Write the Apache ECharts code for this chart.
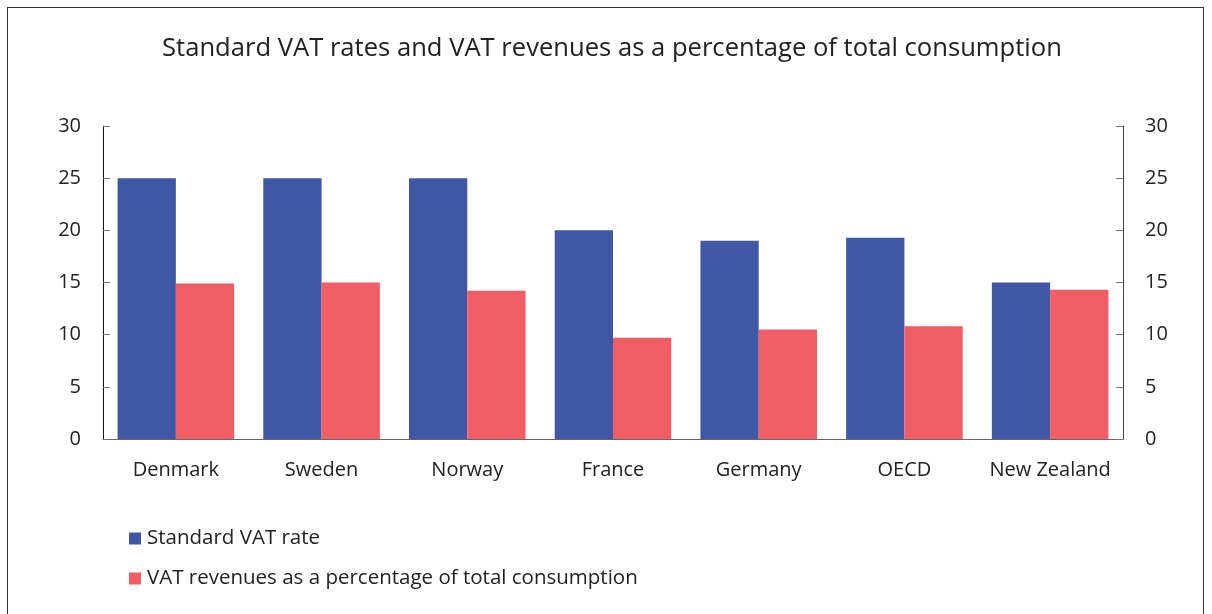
<!DOCTYPE html>
<html>
<head>
<meta charset="utf-8">
<script src="https://cdn.jsdelivr.net/npm/echarts@6/dist/echarts.min.js"></script>
<style>
  html, body { margin: 0; padding: 0; background: #fff; overflow: hidden; }
  #frame { position: absolute; left: 7px; top: 7px; width: 1197px; height: 640px; border: 1px solid #333; box-sizing: border-box; }
  #chart { position: absolute; left: 0; top: 0; width: 1212px; height: 614px; }
</style>
</head>
<body>
<div id="frame"></div>
<div id="chart"></div>
<script>
// data
const countries = ['Denmark', 'Sweden', 'Norway', 'France', 'Germany', 'OECD', 'New Zealand']
const vatRate = [25, 25, 25, 20, 19, 19.3, 15]
const vatRevenue = [14.9, 15, 14.2, 9.7, 10.5, 10.8, 14.3]
const yTicks = [0, 5, 10, 15, 20, 25, 30]

const font = '"Open Sans", "Noto Sans", sans-serif'
const chart = echarts.init(document.getElementById('chart'))

const valueAxis = (pos, lineColor) => ({
  type: 'value',
  position: pos,
  min: yTicks[0],
  max: yTicks[yTicks.length - 1],
  interval: 5,
  splitLine: { show: false },
  axisLine: { show: true, lineStyle: { color: lineColor, width: 1 } },
  axisTick: { show: true, inside: true, length: 7, lineStyle: { color: '#777' } },
  axisLabel: { color: '#222', fontSize: 20, fontFamily: font, margin: 22 }
})

chart.setOption({
  animation: false,
  title: {
    text: 'Standard VAT rates and VAT revenues as a percentage of total consumption',
    left: 157,
    top: 31,
    textStyle: { color: '#222', fontSize: 25.6, fontWeight: 'normal', fontFamily: font }
  },
  grid: { left: 103, right: 89, top: 126, bottom: 175 },
  legend: {
    orient: 'vertical',
    left: 124,
    top: 523,
    itemWidth: 12,
    itemHeight: 12,
    itemGap: 19,
    icon: 'rect',
    textStyle: { color: '#222', fontSize: 20.5, fontFamily: font, padding: [0, 0, 0, 1] }
  },
  xAxis: {
    type: 'category',
    data: countries,
    axisLine: { lineStyle: { color: '#666' } },
    axisTick: { show: false },
    axisLabel: { color: '#222', fontSize: 20, fontFamily: font, margin: 21, interval: 0 }
  },
  yAxis: [valueAxis('left', '#111'), valueAxis('right', '#444')],
  series: [{
    name: 'Standard VAT rate',
    type: 'bar',
    data: vatRate,
    barGap: '0%',
    barCategoryGap: '20%',
    itemStyle: { color: '#4057A6' }
  }, {
    name: 'VAT revenues as a percentage of total consumption',
    type: 'bar',
    data: vatRevenue,
    itemStyle: { color: '#F15D64' }
  }]
})
</script>
</body>
</html>
